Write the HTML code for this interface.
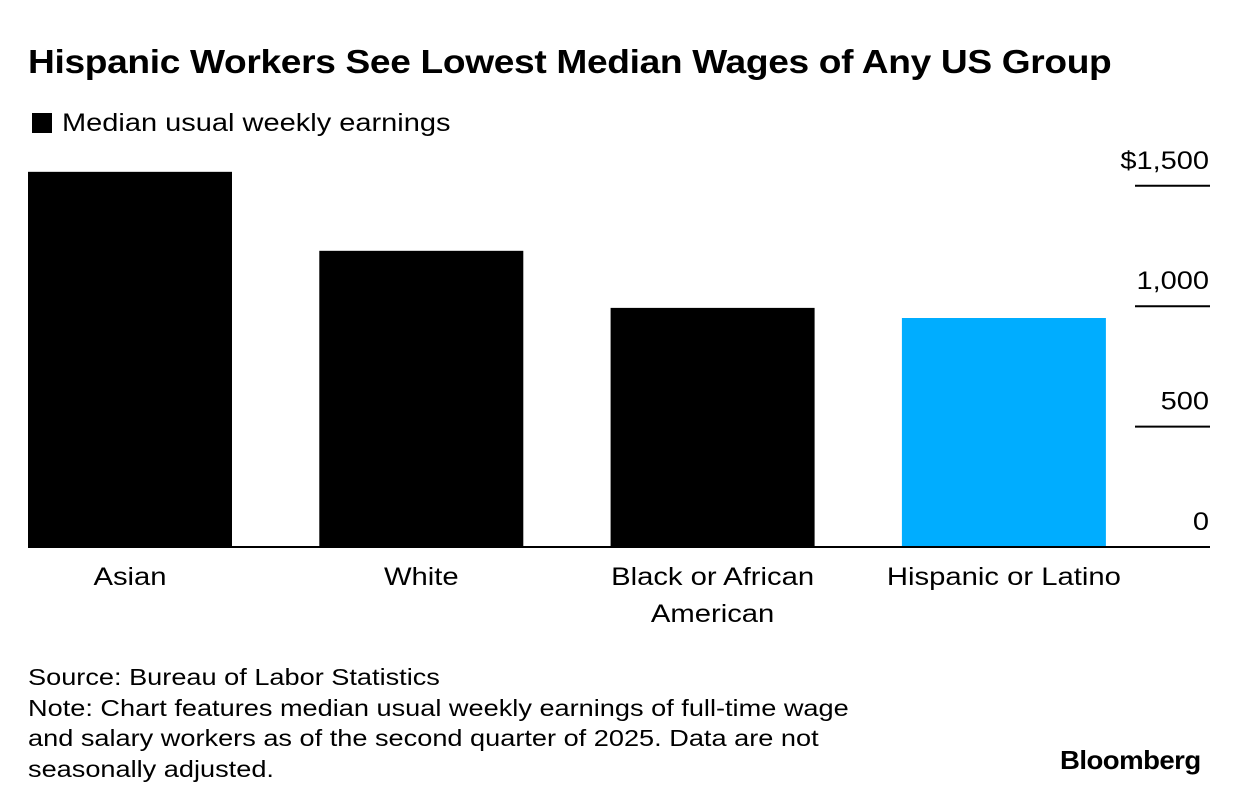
<!DOCTYPE html>
<html><head><meta charset="utf-8">
<style>
body{margin:0;background:#fff;font-family:"Liberation Sans",Arial,sans-serif;}
#wrap{position:relative;width:1240px;height:806px;overflow:hidden;}
.t{position:absolute;white-space:nowrap;color:#000;transform-origin:0 0;}
</style></head>
<body>
<div id="wrap">
<div class="t" style="left:28px;top:43px;font-size:33px;font-weight:bold;letter-spacing:-0.3px;transform:scaleX(1.125);">Hispanic Workers See Lowest Median Wages of Any US Group</div>
<div style="position:absolute;left:32px;top:113px;width:20px;height:20px;background:#000;"></div>
<div class="t" style="left:62px;top:109px;font-size:25px;transform:scaleX(1.16);">Median usual weekly earnings</div>
<svg id="chart" width="1240" height="660" style="position:absolute;left:0;top:0;"></svg>
<div class="t" style="left:28px;top:662px;font-size:23.5px;line-height:30.5px;transform:scaleX(1.155);">Source: Bureau of Labor Statistics<br>Note: Chart features median usual weekly earnings of full-time wage<br>and salary workers as of the second quarter of 2025. Data are not<br>seasonally adjusted.</div>
<div class="t" style="left:1060px;top:745px;font-size:26px;font-weight:bold;letter-spacing:-0.5px;transform:scaleX(1.06);">Bloomberg</div>
</div>
<script>
const categories=["Asian","White","Black or African American","Hispanic or Latino"];
const labelLines=[["Asian"],["White"],["Black or African","American"],["Hispanic or Latino"]];
const values=[1558,1230,993,951];
const colors=["#000","#000","#000","#00adff"];
const ticks=[0,500,1000,1500];
const tickLabels=["0","500","1,000","$1,500"];
const svg=document.getElementById('chart');
const NS="http://www.w3.org/2000/svg";
const y0=547,pxPer=120.4/500;
function y(v){return y0-v*pxPer;}
function x(i){return 28+i*291.3;}
const bw=204;
function mk(tag,attrs){const e=document.createElementNS(NS,tag);for(const k in attrs)e.setAttribute(k,attrs[k]);svg.appendChild(e);return e;}
ticks.forEach((t,i)=>{
  if(t>0){const l=mk('line',{x1:1135,x2:1210,y1:y(t),y2:y(t),stroke:'#000','stroke-width':2});
  
  }
  const tx=mk('text',{x:0,y:0,transform:'translate(1209,'+(y(t)-17)+') scale(1.16,1)','text-anchor':'end','font-size':25,fill:'#000'});
  tx.textContent=tickLabels[i];
  
  
});
values.forEach((v,i)=>{
  const r=mk('rect',{x:x(i),y:y(v),width:bw,height:y0-y(v),fill:colors[i]});
  
  
  labelLines[i].forEach((ln,j)=>{
    const t=mk('text',{x:0,y:0,transform:'translate('+(x(i)+bw/2)+','+(585+j*37)+') scale(1.17,1)','text-anchor':'middle','font-size':25,fill:'#000'});
    t.textContent=ln;
    
    
  });
});
const ax=mk('line',{x1:28,x2:1210,y1:y0,y2:y0,stroke:'#000','stroke-width':2});


</script>
</body></html>
